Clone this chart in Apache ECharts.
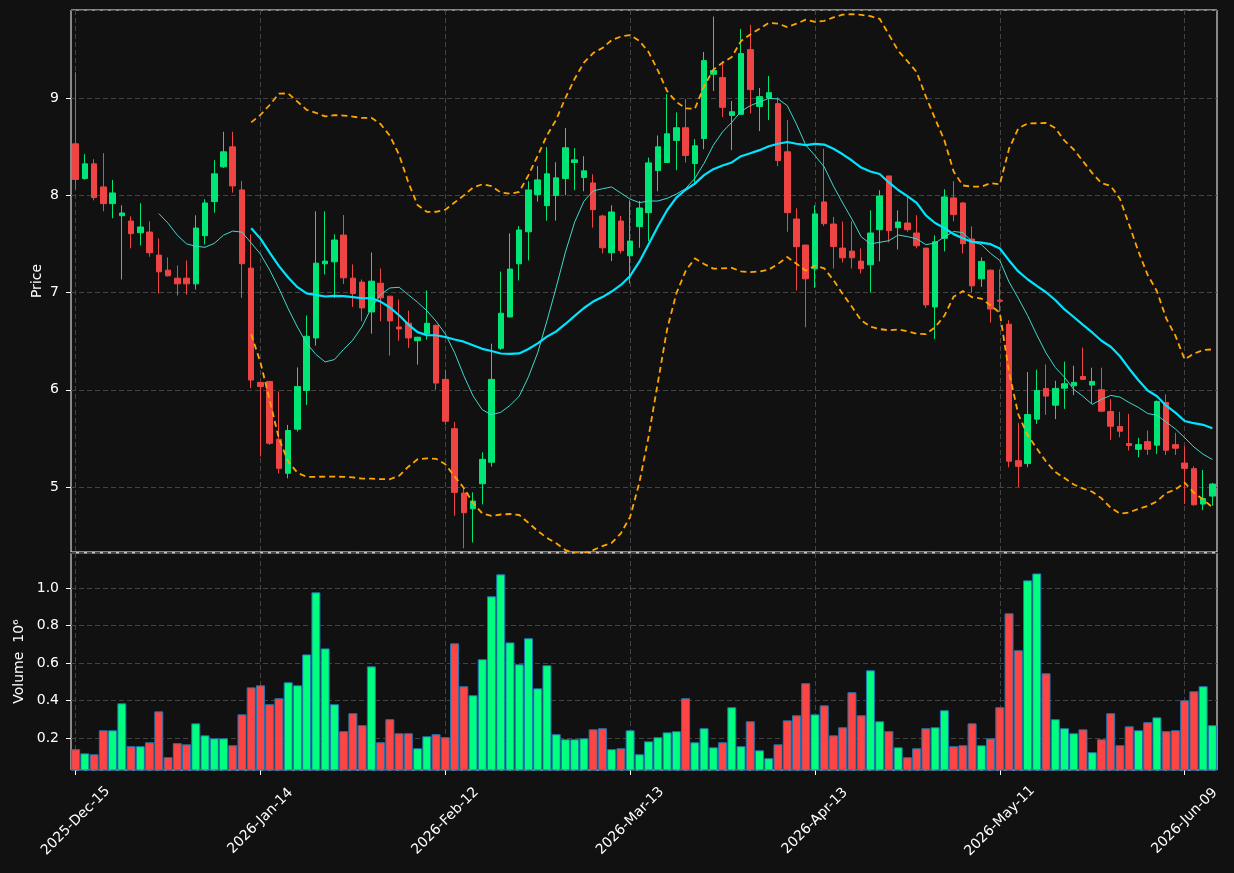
<!DOCTYPE html>
<html>
<head>
<meta charset="utf-8">
<script src="https://cdn.jsdelivr.net/npm/echarts@6/dist/echarts.min.js"></script>
<style>
  html, body { margin: 0; padding: 0; background: #111111; }
  #chart { width: 1234px; height: 873px; }
</style>
</head>
<body>
<div id="chart"></div>
<script>
// tick labels, one every 20 bars
const tickLabels = ['2025-Dec-15', '2026-Jan-14', '2026-Feb-12', '2026-Mar-13', '2026-Apr-13', '2026-May-11', '2026-Jun-09'];
const tickStep = 20;

// OHLC, one entry per bar
const opens = [
  8.529, 8.172, 8.323, 8.086, 7.914, 7.790, 7.735, 7.615, 7.622, 7.385,
  7.230, 7.148, 7.148, 7.089, 7.584, 7.935, 8.292, 8.498, 8.055, 7.251,
  6.076, 6.086, 5.491, 5.141, 5.595, 5.993, 6.533, 7.296, 7.316, 7.591,
  7.148, 7.107, 6.801, 7.096, 6.962, 6.646, 6.684, 6.505, 6.574, 6.663,
  6.107, 5.600, 4.938, 4.777, 5.034, 5.255, 6.426, 6.749, 7.296, 7.625,
  8.007, 7.893, 7.997, 8.172, 8.337, 8.182, 8.127, 7.787, 7.409, 7.735,
  7.378, 7.677, 7.821, 8.254, 8.337, 8.564, 8.694, 8.326, 8.584, 9.244,
  9.210, 8.821, 8.832, 9.498, 8.914, 9.000, 8.942, 8.447, 7.756, 7.488,
  7.244, 7.931, 7.704, 7.457, 7.426, 7.323, 7.285, 7.646, 8.199, 7.667,
  7.715, 7.612, 7.457, 6.852, 7.557, 7.973, 7.921, 7.550, 7.141, 7.230,
  6.921, 6.674, 5.271, 5.241, 5.698, 6.014, 5.842, 6.017, 6.041, 6.137,
  6.048, 6.000, 5.777, 5.622, 5.447, 5.388, 5.467, 5.430, 5.869, 5.436,
  5.247, 5.189, 4.825, 4.907
];
const highs = [
  9.265, 8.423, 8.371, 8.433, 8.158, 7.897, 7.784, 7.918, 7.732, 7.557,
  7.361, 7.278, 7.330, 7.794, 7.959, 8.361, 8.653, 8.653, 8.148, 7.598,
  6.080, 6.090, 5.983, 5.639, 6.230, 6.763, 7.835, 7.835, 7.598, 7.797,
  7.289, 7.134, 7.412, 7.247, 6.965, 6.928, 6.814, 6.545, 7.021, 6.670,
  6.206, 5.670, 4.997, 4.946, 5.357, 6.474, 7.216, 7.608, 7.684, 8.144,
  8.299, 8.495, 8.340, 8.691, 8.485, 8.402, 8.216, 7.800, 7.897, 7.787,
  7.948, 7.942, 8.388, 8.615, 9.041, 8.852, 8.990, 8.577, 9.474, 9.838,
  9.378, 8.969, 9.711, 9.753, 9.103, 9.227, 9.007, 8.773, 7.866, 7.490,
  7.897, 8.478, 7.777, 7.729, 7.732, 7.454, 7.845, 8.052, 8.200, 7.845,
  7.993, 7.794, 7.457, 7.588, 8.062, 8.144, 7.931, 7.680, 7.361, 7.237,
  7.237, 6.715, 5.660, 6.182, 6.206, 6.261, 6.093, 6.289, 6.247, 6.433,
  6.227, 6.227, 5.904, 5.773, 5.753, 5.505, 5.581, 5.890, 5.952, 5.557,
  5.419, 5.213, 5.175, 5.041
];
const lows = [
  8.062, 8.160, 7.948, 7.835, 7.763, 7.134, 7.454, 7.485, 7.368, 6.990,
  7.165, 6.969, 6.979, 7.031, 7.495, 7.821, 8.280, 8.027, 6.945, 6.017,
  5.313, 5.433, 5.141, 5.089, 5.570, 5.845, 6.454, 7.186, 6.945, 7.089,
  6.852, 6.704, 6.577, 6.704, 6.351, 6.505, 6.430, 6.258, 6.515, 6.000,
  5.639, 4.705, 4.370, 4.431, 4.822, 5.210, 6.410, 6.745, 7.124, 7.330,
  7.935, 7.739, 7.739, 8.000, 8.052, 8.041, 7.667, 7.402, 7.323, 7.400,
  7.093, 7.460, 7.529, 8.041, 8.337, 8.258, 8.337, 8.127, 8.474, 9.072,
  8.804, 8.464, 8.832, 8.842, 8.660, 8.773, 8.299, 7.625, 7.021, 6.643,
  7.048, 7.684, 7.247, 7.309, 7.247, 7.196, 7.000, 7.320, 7.515, 7.443,
  7.625, 7.454, 6.842, 6.522, 7.423, 7.732, 7.402, 7.000, 7.058, 6.691,
  6.801, 5.203, 5.000, 5.203, 5.649, 5.742, 5.698, 5.804, 5.945, 6.100,
  5.856, 5.770, 5.485, 5.512, 5.375, 5.306, 5.330, 5.340, 5.330, 5.330,
  4.825, 4.808, 4.763, 4.808
];
const closes = [
  8.162, 8.323, 7.976, 7.914, 8.024, 7.818, 7.605, 7.674, 7.409, 7.213,
  7.172, 7.089, 7.089, 7.663, 7.921, 8.220, 8.447, 8.096, 7.296, 6.100,
  6.034, 5.450, 5.192, 5.581, 6.034, 6.550, 7.302, 7.323, 7.540, 7.151,
  6.990, 6.842, 7.117, 6.945, 6.708, 6.625, 6.533, 6.540, 6.684, 6.069,
  5.677, 4.945, 4.736, 4.856, 5.285, 6.107, 6.787, 7.241, 7.643, 8.055,
  8.158, 8.220, 8.179, 8.488, 8.364, 8.251, 7.852, 7.460, 7.828, 7.430,
  7.529, 7.869, 8.333, 8.498, 8.632, 8.694, 8.409, 8.509, 9.385, 9.282,
  8.904, 8.859, 9.457, 9.086, 9.014, 9.055, 8.357, 7.821, 7.471, 7.141,
  7.808, 7.708, 7.474, 7.357, 7.357, 7.244, 7.612, 7.993, 7.636, 7.725,
  7.646, 7.481, 6.873, 7.522, 7.983, 7.801, 7.502, 7.069, 7.320, 6.830,
  6.911, 5.265, 5.213, 5.746, 5.993, 5.935, 6.014, 6.062, 6.076, 6.107,
  6.086, 5.780, 5.625, 5.574, 5.426, 5.436, 5.388, 5.880, 5.378, 5.399,
  5.192, 4.818, 4.883, 5.031
];
// volume in units of 10^6
const volumes = [
  0.140, 0.118, 0.113, 0.241, 0.241, 0.385, 0.156, 0.156, 0.177, 0.342,
  0.097, 0.172, 0.166, 0.278, 0.214, 0.198, 0.198, 0.161, 0.326, 0.470,
  0.481, 0.380, 0.412, 0.497, 0.481, 0.646, 0.977, 0.678, 0.380, 0.236,
  0.332, 0.268, 0.582, 0.177, 0.300, 0.225, 0.225, 0.145, 0.209, 0.220,
  0.204, 0.705, 0.476, 0.428, 0.620, 0.956, 1.073, 0.710, 0.593, 0.732,
  0.465, 0.588, 0.220, 0.193, 0.193, 0.198, 0.246, 0.252, 0.140, 0.145,
  0.241, 0.113, 0.182, 0.204, 0.230, 0.236, 0.412, 0.177, 0.252, 0.150,
  0.177, 0.364, 0.156, 0.289, 0.134, 0.092, 0.166, 0.294, 0.321, 0.492,
  0.326, 0.374, 0.214, 0.257, 0.444, 0.321, 0.561, 0.289, 0.236, 0.150,
  0.097, 0.145, 0.252, 0.257, 0.348, 0.156, 0.161, 0.278, 0.161, 0.198,
  0.364, 0.865, 0.668, 1.041, 1.078, 0.545, 0.300, 0.252, 0.225, 0.246,
  0.124, 0.193, 0.332, 0.161, 0.262, 0.241, 0.284, 0.310, 0.236, 0.241,
  0.401, 0.449, 0.476, 0.268
];

const UP = '#00e676', DOWN = '#ef4444';
const VOL_UP = '#00ff7f', VOL_DOWN = '#ff4444';
const GRID_LINE = { color: '#444444', type: [5, 3], width: 1 };
const TXT = '#ffffff';
const FONT = 'DejaVu Sans';

// rolling indicators from the closes
function rollingMean(arr, n) {
  return arr.map((_, i) => {
    if (i < n - 1) return '-';
    let s = 0;
    for (let k = i - n + 1; k <= i; k++) s += arr[k];
    return s / n;
  });
}
function rollingStd(arr, n) {
  return arr.map((_, i) => {
    if (i < n - 1) return '-';
    let s = 0;
    for (let k = i - n + 1; k <= i; k++) s += arr[k];
    const m = s / n;
    let v = 0;
    for (let k = i - n + 1; k <= i; k++) v += (arr[k] - m) * (arr[k] - m);
    return Math.sqrt(v / n);
  });
}

const ma10 = rollingMean(closes, 10);
const ma20 = rollingMean(closes, 20);
const sd20 = rollingStd(closes, 20);
const upper = ma20.map((m, i) => m === '-' ? '-' : m + 2 * sd20[i]);
const lower = ma20.map((m, i) => m === '-' ? '-' : m - 2 * sd20[i]);

const cats = closes.map((_, i) => String(i));
const candles = opens.map((o, i) => [o, closes[i], lows[i], highs[i]]);
const volBars = volumes.map((v, i) => ({
  value: v,
  itemStyle: { color: closes[i] >= opens[i] ? VOL_UP : VOL_DOWN }
}));

const chart = echarts.init(document.getElementById('chart'), null, { renderer: 'canvas' });

chart.setOption({
  backgroundColor: '#111111',
  animation: false,
  textStyle: { fontFamily: FONT },
  grid: [
    { left: 71, right: 17, top: 10, height: 542, show: true, borderColor: '#ffffff', borderWidth: 1, backgroundColor: 'transparent' },
    { left: 71, right: 17, top: 553, height: 217, show: true, borderColor: '#ffffff', borderWidth: 1, backgroundColor: 'transparent' }
  ],
  xAxis: [
    {
      type: 'category', gridIndex: 0, data: cats, boundaryGap: true,
      axisLine: { show: false }, axisTick: { show: false }, axisLabel: { show: false },
      splitLine: { show: true, interval: tickStep - 1, alignWithLabel: true, lineStyle: GRID_LINE }
    },
    {
      type: 'category', gridIndex: 1, data: cats, boundaryGap: true,
      axisLine: { show: false },
      axisTick: { show: true, interval: tickStep - 1, alignWithLabel: true, length: 5, lineStyle: { color: '#ffffff' } },
      axisLabel: {
        interval: tickStep - 1, rotate: 45, align: 'center', verticalAlign: 'middle', margin: 51,
        color: TXT, fontSize: 14, fontFamily: FONT,
        formatter: (v, i) => (i % tickStep === 0 ? tickLabels[i / tickStep] : '')
      },
      splitLine: { show: true, interval: tickStep - 1, alignWithLabel: true, lineStyle: GRID_LINE }
    }
  ],
  yAxis: [
    {
      type: 'value', gridIndex: 0, min: 4.332, max: 9.905, splitNumber: 5, scale: true,
      axisLine: { show: false },
      axisTick: { show: true, length: 5, lineStyle: { color: '#ffffff' } },
      axisLabel: { color: TXT, fontSize: 14, fontFamily: FONT, margin: 12, showMinLabel: false, showMaxLabel: false },
      splitLine: { show: true, lineStyle: GRID_LINE },
      name: 'Price', nameLocation: 'middle', nameGap: 27, nameMoveOverlap: false,
      nameTextStyle: { color: TXT, fontSize: 14, fontFamily: FONT }
    },
    {
      type: 'value', gridIndex: 1, min: 0.029, max: 1.187, splitNumber: 5, scale: true,
      axisLine: { show: false },
      axisTick: { show: true, length: 5, lineStyle: { color: '#ffffff' } },
      axisLabel: {
        color: TXT, fontSize: 14, fontFamily: FONT, margin: 12, showMinLabel: false, showMaxLabel: false,
        formatter: v => v.toFixed(1)
      },
      splitLine: { show: true, lineStyle: GRID_LINE },
      name: 'Volume  10\u2076', nameLocation: 'middle', nameGap: 45, nameMoveOverlap: false,
      nameTextStyle: { color: TXT, fontSize: 14, fontFamily: FONT }
    }
  ],
  series: [
    {
      name: 'OHLC', type: 'candlestick', xAxisIndex: 0, yAxisIndex: 0,
      data: candles, barWidth: 6,
      itemStyle: { color: UP, color0: DOWN, borderColor: UP, borderColor0: DOWN, borderWidth: 1 }
    },
    {
      name: 'MA10', type: 'line', xAxisIndex: 0, yAxisIndex: 0, data: ma10,
      showSymbol: false, symbol: 'none', z: 3,
      lineStyle: { color: '#40d8cc', width: 1 }
    },
    {
      name: 'MA20', type: 'line', xAxisIndex: 0, yAxisIndex: 0, data: ma20,
      showSymbol: false, symbol: 'none', z: 4,
      lineStyle: { color: '#00e5ff', width: 2.2 }
    },
    {
      name: 'Upper', type: 'line', xAxisIndex: 0, yAxisIndex: 0, data: upper,
      showSymbol: false, symbol: 'none', z: 4,
      lineStyle: { color: '#ffa500', width: 1.8, type: [6, 4] }
    },
    {
      name: 'Lower', type: 'line', xAxisIndex: 0, yAxisIndex: 0, data: lower,
      showSymbol: false, symbol: 'none', z: 4,
      lineStyle: { color: '#ffa500', width: 1.8, type: [6, 4] }
    },
    {
      name: 'Volume', type: 'bar', xAxisIndex: 1, yAxisIndex: 1,
      data: volBars, barWidth: 9,
      itemStyle: { borderColor: '#1f77b4', borderWidth: 1 }
    }
  ]
});
</script>
</body>
</html>
